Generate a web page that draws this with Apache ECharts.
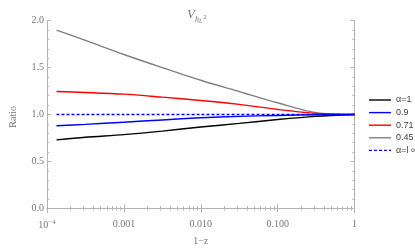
<!DOCTYPE html>
<html><head><meta charset="utf-8">
<script src="https://cdn.jsdelivr.net/npm/echarts@6/dist/echarts.min.js"></script>
<style>html,body{margin:0;padding:0;background:#fff}#c{width:415px;height:251px}</style>
</head><body><div id="c"></div>
<script>
// 1 - z sample positions
const xVals = [1.33e-4, 3.16e-4, 1e-3, 3.16e-3, 1e-2, 3.16e-2, 0.1, 0.316, 1];
const ratioAlpha1   = [0.73, 0.758, 0.786, 0.823, 0.867, 0.905, 0.946, 0.98, 1.0];
const ratio09       = [0.88, 0.895, 0.918, 0.942, 0.965, 0.98, 0.99, 0.998, 1.0];
const ratio071      = [1.245, 1.235, 1.217, 1.185, 1.15, 1.108, 1.054, 1.012, 1.0];
const ratio045      = [1.90, 1.79, 1.64, 1.50, 1.365, 1.245, 1.125, 1.02, 1.0];
const ratioInf      = [1.0, 1.0, 1.0, 1.0, 1.0, 1.0, 1.0, 1.0, 1.0];
const seriesNames = ['α=1', '0.9', '0.71', '0.45', 'α=l ∞'];
const xMajorTicks = [1e-4, 1e-3, 1e-2, 1e-1, 1];
const xTickLabels = ['{b|10}{s|−4}', '0.001', '0.010', '0.100', '1'];
const yMajorTicks = [0, 0.5, 1, 1.5, 2];
const yTickLabels = ['0.0', '0.5', '1.0', '1.5', '2.0'];

const xMinor = [];
for (let d = -4; d < 0; d++) for (let k = 2; k <= 9; k++) xMinor.push(k * Math.pow(10, d));
const yMinor = [];
for (let i = 0; i <= 20; i++) if (i % 5) yMinor.push(i / 10);

const frame = '#b3b3b3';
const labelCol = '#777';
const serif = 'Liberation Serif, DejaVu Serif, serif';

function pairs(ys) { return xVals.map((x, i) => [x, ys[i]]); }

function xAxisDef(pos, ticks, len, labels, showLine) {
  return {
    type: 'log', logBase: 10, min: 1e-4, max: 1, position: pos,
    axisLine: { show: showLine, lineStyle: { color: frame, width: 1 } },
    axisTick: { show: true, inside: true, length: len, customValues: ticks, lineStyle: { color: frame } },
    axisLabel: labels ? {
      show: true, customValues: xMajorTicks, color: labelCol, fontFamily: serif, fontSize: 10, margin: 6,
      formatter: v => xTickLabels[Math.round(Math.log10(v)) + 4],
      rich: { b: { fontFamily: serif, fontSize: 10, color: labelCol }, s: { fontFamily: serif, fontSize: 7, color: labelCol, verticalAlign: 'top', padding: [0, 0, 6, 0] } }
    } : { show: false },
    splitLine: { show: false }, minorTick: { show: false }
  };
}
function yAxisDef(pos, ticks, len, labels, showLine) {
  return {
    type: 'value', min: -0.05, max: 2, position: pos, offset: 0,
    axisLine: { show: showLine, lineStyle: { color: frame, width: 1 } },
    axisTick: { show: true, inside: true, length: len, customValues: ticks, lineStyle: { color: frame } },
    axisLabel: labels ? {
      show: true, customValues: yMajorTicks, color: labelCol, fontFamily: serif, fontSize: 10, margin: 3,
      formatter: v => yTickLabels[Math.round(v * 2)]
    } : { show: false },
    splitLine: { show: false }
  };
}

const xAxes = [
  xAxisDef('bottom', xMajorTicks, 4, true, true),
  xAxisDef('bottom', xMinor, 2, false, false),
  xAxisDef('top', xMajorTicks, 4, false, true),
  xAxisDef('top', xMinor, 2, false, false)
];
xAxes[0].name = '1−z';
xAxes[0].nameLocation = 'middle';
xAxes[0].nameGap = 23;
xAxes[0].nameTextStyle = { fontFamily: serif, fontSize: 10, color: labelCol };

const yAxes = [
  yAxisDef('left', yMajorTicks, 4, true, true),
  yAxisDef('left', yMinor, 2, false, false),
  yAxisDef('right', yMajorTicks, 4, false, true),
  yAxisDef('right', yMinor, 2, false, false)
];
yAxes[0].name = 'Ratio';
yAxes[0].nameLocation = 'middle';
yAxes[0].nameGap = 29;
yAxes[0].nameTextStyle = { fontFamily: serif, fontSize: 10, color: labelCol };

const colors = ['#000000', '#0000ff', '#ff0000', '#808080', '#0000ff'];
const dataSets = [ratioAlpha1, ratio09, ratio071, ratio045, ratioInf];
const order = [3, 2, 0, 1, 4];
const series = order.map(i => ({
  name: seriesNames[i], type: 'line', data: pairs(dataSets[i]), smooth: 0.3,
  showSymbol: false, symbol: 'none', xAxisIndex: 0, yAxisIndex: 0,
  lineStyle: { color: colors[i], width: 1.4, type: i === 4 ? [3, 2] : 'solid' },
  itemStyle: { color: colors[i] }, animation: false
}));

const solidIcon = 'path://M0,0H22V1.4H0Z';
const dashIcon = 'path://M0,0H3V1.4H0Z M5,0H8V1.4H5Z M10,0H13V1.4H10Z M15,0H18V1.4H15Z M20,0H22V1.4H20Z';

const chart = echarts.init(document.getElementById('c'), null, { renderer: 'canvas' });
chart.setOption({
  animation: false,
  backgroundColor: '#fff',
  title: {
    text: '{v|V}{sub|h}{ss|L}{sup|2}', left: 182, top: 1,
    textStyle: {
      rich: {
        v: { fontFamily: serif, fontStyle: 'italic', fontWeight: 'normal', fontSize: 13, color: '#777', lineHeight: 18 },
        sub: { fontFamily: serif, fontStyle: 'italic', fontWeight: 'normal', fontSize: 8, color: '#777', verticalAlign: 'bottom', lineHeight: 18, padding: [6, 0, 0, 0] },
        ss: { fontFamily: serif, fontStyle: 'italic', fontWeight: 'normal', fontSize: 6, color: '#777', verticalAlign: 'bottom', lineHeight: 18, padding: [8, 0, 0, 0] },
        sup: { fontFamily: serif, fontWeight: 'normal', fontSize: 7, color: '#777', verticalAlign: 'bottom', lineHeight: 18, padding: [0, 0, 3, 1] }
      }
    }
  },
  grid: { left: 30, right: 60.5, top: 20.7, bottom: 30.3, containLabel: false },
  legend: {
    orient: 'vertical', left: 364, top: 89.5, itemWidth: 22, itemHeight: 1.4, itemGap: 1.6,
    data: seriesNames.map((n, i) => ({ name: n, icon: i === 4 ? dashIcon : solidIcon, itemStyle: { color: colors[i] } })),
    textStyle: { fontFamily: 'Liberation Sans, Arial, sans-serif', fontSize: 9, color: '#444', lineHeight: 11 },
    selectedMode: false
  },
  xAxis: xAxes,
  yAxis: yAxes,
  series: series
});
</script></body></html>
